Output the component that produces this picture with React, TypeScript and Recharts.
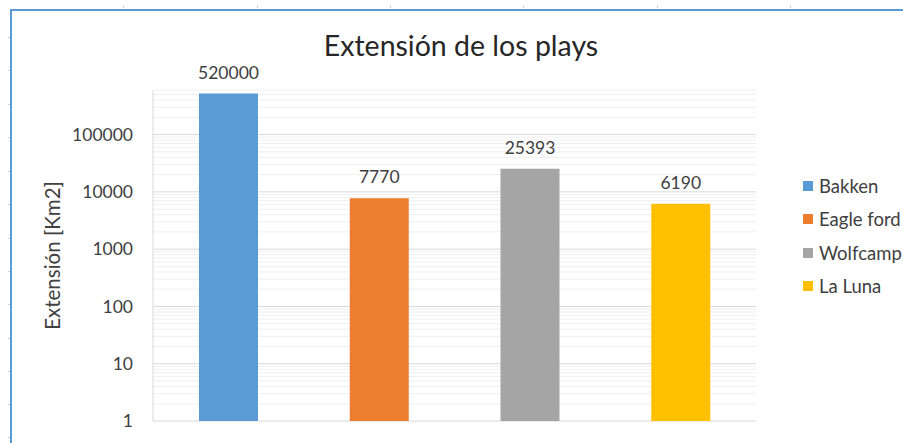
import React from 'react';
import { BarChart, Bar, XAxis, YAxis, CartesianGrid, Cell, LabelList, Legend } from 'recharts';

const categories = ['Bakken', 'Eagle ford', 'Wolfcamp', 'La Luna'];
const extension = [520000, 7770, 25393, 6190];
const barColors = ['#5B9BD5', '#ED7D31', '#A5A5A5', '#FFC000'];
const yTicks = [1, 10, 100, 1000, 10000, 100000];
const minorMultipliers = [2, 3, 4, 5, 6, 7, 8, 9];
const yMax = 600000;

const minorGridValues = yTicks
  .flatMap((d) => minorMultipliers.map((m) => d * m))
  .filter((v) => v <= yMax);

const data = categories.map((name, i) => ({ name, value: extension[i] }));

const FONT = 'Lato, "Open Sans", sans-serif';
const TEXT = '#404040';

const topMarks = [123, 257, 390, 523, 657, 790];
const leftMarks = [37, 70, 104, 137, 171, 204, 238, 271, 304, 338, 371, 404, 437];

export default function App() {
  return (
    <div style={{ position: 'relative', width: 903, height: 443, overflow: 'hidden', background: '#fff', fontFamily: FONT }}>
      <style>{`body{margin:0}`}</style>
      {topMarks.map((x) => (
        <div key={'t' + x} style={{ position: 'absolute', left: x, top: 5, width: 1, height: 3, background: '#d4d4d4' }} />
      ))}
      {leftMarks.map((y) => (
        <div key={'l' + y} style={{ position: 'absolute', left: 8, top: y, width: 3, height: 1, background: '#d4d4d4' }} />
      ))}
      <div style={{ position: 'absolute', left: 10, top: 9, width: 2000, height: 2000, border: '2px solid #5B9BD5' }} />
      <div
        style={{
          position: 'absolute',
          left: 0,
          width: 922,
          top: 26,
          textAlign: 'center',
          fontSize: 28.5,
          color: '#262626',
          fontFamily: FONT,
          lineHeight: '38px',
        }}
      >
        Extensión de los plays
      </div>
      <div style={{ position: 'absolute', left: 0, top: 0 }}>
        <BarChart width={903} height={443} data={data} margin={{ top: 90, right: 147, bottom: 22, left: 0 }}>
          <CartesianGrid vertical={false} horizontalValues={minorGridValues} stroke="#efefef" syncWithTicks={false} />
          <CartesianGrid vertical={false} horizontalValues={yTicks} stroke="#d9d9d9" syncWithTicks={false} />
          <XAxis dataKey="name" height={0} tick={false} tickLine={false} axisLine={{ stroke: '#d9d9d9' }} />
          <YAxis
            width={153}
            scale="log"
            domain={[1, yMax]}
            allowDataOverflow
            ticks={yTicks}
            interval={0}
            tickLine={false}
            tickSize={10}
            tickMargin={10}
            axisLine={{ stroke: '#d9d9d9' }}
            tick={{ fill: TEXT, fontSize: 17.5, fontFamily: FONT }}
            label={{
              value: 'Extensión [Km2]',
              angle: -90,
              position: 'insideLeft',
              offset: 53,
              style: { textAnchor: 'middle', fill: TEXT, fontSize: 20.5, fontFamily: FONT },
            }}
          />
          <Legend
            layout="vertical"
            align="center"
            verticalAlign="middle"
            wrapperStyle={{ left: 803, top: 169, width: 110 }}
            content={() => (
              <div style={{ fontFamily: FONT, fontSize: 18.5, color: TEXT }}>
                {categories.map((c, i) => (
                  <div key={c} style={{ display: 'flex', alignItems: 'center', height: 33.5, whiteSpace: 'nowrap' }}>
                    <span style={{ display: 'inline-block', width: 10, height: 10, background: barColors[i], marginRight: 6 }} />
                    <span>{c}</span>
                  </div>
                ))}
              </div>
            )}
          />
          <Bar dataKey="value" barSize={59} isAnimationActive={false}>
            {data.map((d, i) => (
              <Cell key={d.name} fill={barColors[i]} />
            ))}
            <LabelList dataKey="value" position="top" offset={15} fill={TEXT} fontSize={17.5} fontFamily={FONT} />
          </Bar>
        </BarChart>
      </div>
    </div>
  );
}
